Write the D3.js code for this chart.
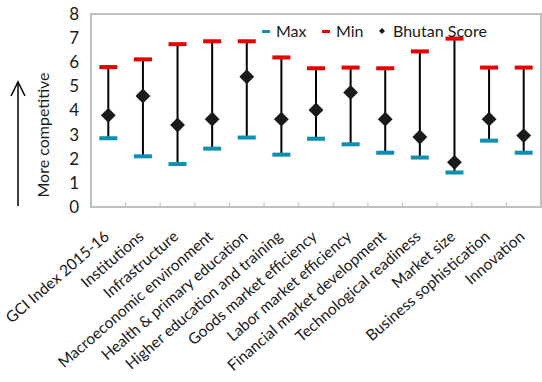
<!DOCTYPE html>
<html>
<head>
<meta charset="utf-8">
<script src="https://cdn.jsdelivr.net/npm/d3@7"></script>
<style>
  body { margin: 0; background: #fff; }
  svg text { font-family: Lato, "Open Sans", sans-serif; fill: #1a1a1a; }
</style>
</head>
<body>
<div id="chart"></div>
<script>
// chart data
var categories = ["GCI Index 2015-16", "Institutions", "Infrastructure", "Macroeconomic environment",
    "Health & primary education", "Higher education and training", "Goods market efficiency",
    "Labor market efficiency", "Financial market development", "Technological readiness",
    "Market size", "Business sophistication", "Innovation"];
var maxValues = [2.85, 2.1, 1.78, 2.42, 2.88, 2.17, 2.83, 2.6, 2.25, 2.05, 1.43, 2.75, 2.25];
var minValues = [5.8, 6.12, 6.75, 6.87, 6.87, 6.2, 5.75, 5.78, 5.75, 6.45, 6.98, 5.78, 5.78];
var bhutanScores = [3.8, 4.6, 3.4, 3.64, 5.4, 3.64, 4.02, 4.75, 3.64, 2.9, 1.85, 3.64, 2.96];
var yTicks = [0, 1, 2, 3, 4, 5, 6, 7, 8];

function init() {
    var w = 542, h = 382;
    var margin = { top: 14, right: 1, bottom: 175, left: 91 };
    var width = w - margin.left - margin.right;
    var height = h - margin.top - margin.bottom;

    var data = categories.map(function(c, i) {
        return { cat: c, max: maxValues[i], min: minValues[i], score: bhutanScores[i] };
    });

    var svg = d3.select("#chart").append("svg")
        .attr("width", w)
        .attr("height", h);

    var g = svg.append("g")
        .attr("transform", "translate(" + margin.left + "," + margin.top + ")");

    var xScale = d3.scaleBand().domain(categories).range([0, width]);
    var yScale = d3.scaleLinear().domain([0, 8]).range([height, 0]);

    // plot border
    g.append("rect")
        .attr("x", 0).attr("y", 0)
        .attr("width", width).attr("height", height)
        .attr("fill", "none")
        .attr("stroke", "#bfbfbf")
        .attr("stroke-width", 2);

    // x axis ticks (between categories)
    g.selectAll(".xtick")
        .data(categories.slice(1))
        .enter().append("line")
        .attr("x1", d => xScale(d)).attr("x2", d => xScale(d))
        .attr("y1", height).attr("y2", height - 5)
        .attr("stroke", "#bfbfbf")
        .attr("stroke-width", 1);

    // y tick labels
    g.selectAll(".ylab")
        .data(yTicks)
        .enter().append("text")
        .attr("x", -12)
        .attr("y", d => yScale(d))
        .attr("dy", "0.35em")
        .attr("text-anchor", "end")
        .style("font-size", "17px")
        .text(d => d);

    // x labels (chart was stretched sideways, so the slant is under 45)
    g.selectAll(".xlab")
        .data(categories)
        .enter().append("text")
        .attr("transform", d => "translate(" + (xScale(d) + xScale.bandwidth() / 2 + 2) + "," + (height + 31) + ") rotate(-41)")
        .attr("text-anchor", "end")
        .style("font-size", "15.5px")
        .text(d => d);

    var cx = d => xScale(d.cat) + xScale.bandwidth() / 2;

    // range lines
    g.selectAll(".range")
        .data(data)
        .enter().append("line")
        .attr("x1", cx).attr("x2", cx)
        .attr("y1", d => yScale(d.min)).attr("y2", d => yScale(d.max))
        .attr("stroke", "#000")
        .attr("stroke-width", 2);

    // caps
    var capW = 18;
    g.selectAll(".capMax")
        .data(data)
        .enter().append("rect")
        .attr("x", d => cx(d) - capW / 2)
        .attr("y", d => yScale(d.max) - 2)
        .attr("width", capW).attr("height", 4)
        .attr("fill", "#0e8fb0");

    g.selectAll(".capMin")
        .data(data)
        .enter().append("rect")
        .attr("x", d => cx(d) - capW / 2)
        .attr("y", d => yScale(d.min) - 2)
        .attr("width", capW).attr("height", 4)
        .attr("fill", "#e60000");

    // diamonds
    var diamond = d3.symbol().type(d3.symbolSquare).size(110);
    g.selectAll(".score")
        .data(data)
        .enter().append("path")
        .attr("d", diamond)
        .attr("transform", d => "translate(" + cx(d) + "," + yScale(d.score) + ") rotate(45)")
        .attr("fill", "#1a1a1a");

    // legend
    var legend = svg.append("g").attr("transform", "translate(262,31)");
    legend.append("rect").attr("x", 0).attr("y", -1).attr("width", 8).attr("height", 3).attr("fill", "#0e8fb0");
    legend.append("text").attr("x", 14).attr("y", 0).attr("dy", "0.35em").style("font-size", "16px").text("Max");
    legend.append("rect").attr("x", 60).attr("y", -1).attr("width", 8).attr("height", 3).attr("fill", "#e60000");
    legend.append("text").attr("x", 74).attr("y", 0).attr("dy", "0.35em").style("font-size", "16px").text("Min");
    legend.append("path").attr("d", d3.symbol().type(d3.symbolSquare).size(18))
        .attr("transform", "translate(120,0) rotate(45)").attr("fill", "#1a1a1a");
    legend.append("text").attr("x", 131).attr("y", 0).attr("dy", "0.35em").style("font-size", "16px").text("Bhutan Score");

    // y axis title with arrow
    svg.append("text")
        .attr("transform", "translate(49,135) rotate(-90)")
        .attr("text-anchor", "middle")
        .style("font-size", "16px")
        .text("More competitive");

    var arrowX = 18, arrowTop = 82, arrowBottom = 206;
    svg.append("line")
        .attr("x1", arrowX).attr("x2", arrowX)
        .attr("y1", arrowTop).attr("y2", arrowBottom)
        .attr("stroke", "#000").attr("stroke-width", 1.5);
    svg.append("path")
        .attr("d", "M" + (arrowX - 7) + "," + (arrowTop + 14) + " L" + arrowX + "," + arrowTop + " L" + (arrowX + 7) + "," + (arrowTop + 14))
        .attr("fill", "none").attr("stroke", "#000").attr("stroke-width", 1.5);
}

window.onload = init;
</script>
</body>
</html>
